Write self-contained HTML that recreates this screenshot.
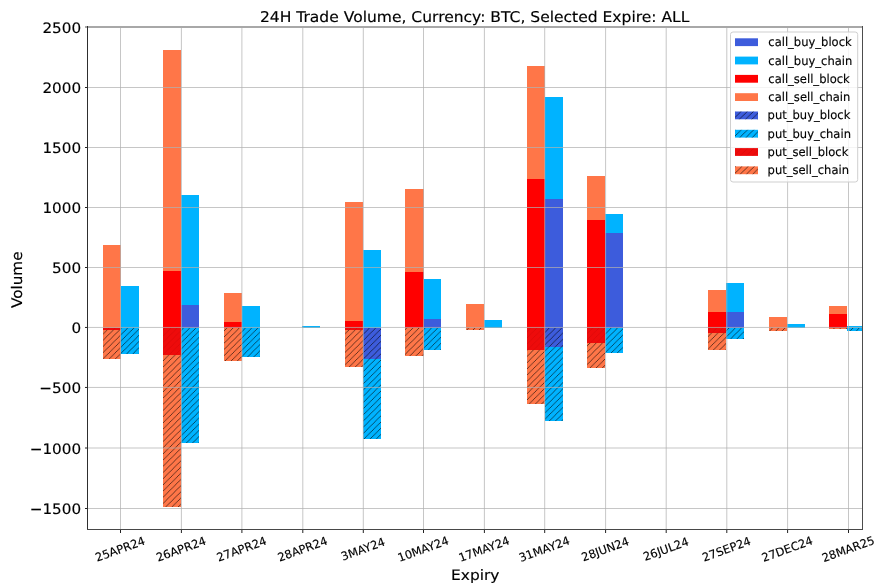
<!DOCTYPE html>
<html lang="en">
<head>
<meta charset="utf-8">
<title>24H Trade Volume, Currency: BTC, Selected Expire: ALL</title>
<style>
html,body{margin:0;padding:0;background:#fff;}
body{width:889px;height:585px;overflow:hidden;}
svg{display:block;}
svg text{font-family:"DejaVu Sans","Liberation Sans",sans-serif;fill:#000;text-rendering:geometricPrecision;stroke:#000;stroke-width:0.15px;}
</style>
</head>
<body>
<svg width="889" height="585" viewBox="0 0 889 585">
<defs>
<pattern id="h" patternUnits="userSpaceOnUse" width="6.2" height="6.2" x="0.9" y="2.2">
<path d="M-1 1L1 -1M-1 7.2L7.2 -1M5.2 7.2L7.2 5.2" stroke="#000" stroke-opacity="0.72" stroke-width="0.8" fill="none"/>
</pattern>
<pattern id="hr" patternUnits="userSpaceOnUse" width="6.2" height="6.2" x="0.9" y="2.2">
<path d="M-1 1L1 -1M-1 7.2L7.2 -1M5.2 7.2L7.2 5.2" stroke="#b00000" stroke-opacity="0.3" stroke-width="0.8" fill="none"/>
</pattern>
<clipPath id="ax"><rect x="87.5" y="26.5" width="775" height="503"/></clipPath>
</defs>
<rect width="889" height="585" fill="#fff"/>
<g clip-path="url(#ax)" shape-rendering="crispEdges">
<rect x="103" y="244.7" width="18" height="82.9" fill="#ff7648"/>
<rect x="103" y="327.6" width="18" height="2.1" fill="#ee0b0b"/><rect x="103" y="327.6" width="18" height="2.1" fill="url(#hr)"/>
<rect x="103" y="329.7" width="18" height="29.6" fill="#ff7648"/><rect x="103" y="329.7" width="18" height="29.6" fill="url(#h)"/>
<rect x="121" y="286.3" width="18" height="41.3" fill="#00b3ff"/>
<rect x="121" y="327.6" width="18" height="26.4" fill="#00b3ff"/><rect x="121" y="327.6" width="18" height="26.4" fill="url(#h)"/>
<rect x="163" y="270.7" width="18" height="56.9" fill="#ff0000"/>
<rect x="163" y="49.7" width="18" height="221" fill="#ff7648"/>
<rect x="163" y="327.6" width="18" height="27.1" fill="#ee0b0b"/><rect x="163" y="327.6" width="18" height="27.1" fill="url(#hr)"/>
<rect x="163" y="354.7" width="18" height="152" fill="#ff7648"/><rect x="163" y="354.7" width="18" height="152" fill="url(#h)"/>
<rect x="181" y="305" width="18" height="22.6" fill="#3d5cdc"/>
<rect x="181" y="195.3" width="18" height="109.7" fill="#00b3ff"/>
<rect x="181" y="327.6" width="18" height="115.4" fill="#00b3ff"/><rect x="181" y="327.6" width="18" height="115.4" fill="url(#h)"/>
<rect x="224" y="321.7" width="18" height="5.9" fill="#ff0000"/>
<rect x="224" y="292.7" width="18" height="29" fill="#ff7648"/>
<rect x="224" y="327.6" width="18" height="33.1" fill="#ff7648"/><rect x="224" y="327.6" width="18" height="33.1" fill="url(#h)"/>
<rect x="242" y="305.7" width="18" height="21.9" fill="#00b3ff"/>
<rect x="242" y="327.6" width="18" height="29.4" fill="#00b3ff"/><rect x="242" y="327.6" width="18" height="29.4" fill="url(#h)"/>
<rect x="302" y="325.7" width="18" height="1.9" fill="#00b3ff"/>
<rect x="345" y="321" width="18" height="6.6" fill="#ff0000"/>
<rect x="345" y="201.7" width="18" height="119.3" fill="#ff7648"/>
<rect x="345" y="327.6" width="18" height="2.2" fill="#ee0b0b"/><rect x="345" y="327.6" width="18" height="2.2" fill="url(#hr)"/>
<rect x="345" y="329.8" width="18" height="36.7" fill="#ff7648"/><rect x="345" y="329.8" width="18" height="36.7" fill="url(#h)"/>
<rect x="363" y="250" width="18" height="77.6" fill="#00b3ff"/>
<rect x="363" y="327.6" width="18" height="31.8" fill="#3d5cdc"/><rect x="363" y="327.6" width="18" height="31.8" fill="url(#h)"/>
<rect x="363" y="359.4" width="18" height="79.3" fill="#00b3ff"/><rect x="363" y="359.4" width="18" height="79.3" fill="url(#h)"/>
<rect x="405" y="272.3" width="19" height="55.3" fill="#ff0000"/>
<rect x="405" y="189" width="19" height="83.3" fill="#ff7648"/>
<rect x="405" y="327.6" width="19" height="28.1" fill="#ff7648"/><rect x="405" y="327.6" width="19" height="28.1" fill="url(#h)"/>
<rect x="424" y="318.7" width="17" height="8.9" fill="#3d5cdc"/>
<rect x="424" y="279.3" width="17" height="39.4" fill="#00b3ff"/>
<rect x="424" y="327.6" width="17" height="22.1" fill="#00b3ff"/><rect x="424" y="327.6" width="17" height="22.1" fill="url(#h)"/>
<rect x="466" y="304" width="18" height="23.6" fill="#ff7648"/>
<rect x="466" y="327.6" width="18" height="2.1" fill="#ff7648"/><rect x="466" y="327.6" width="18" height="2.1" fill="url(#h)"/>
<rect x="484" y="319.7" width="18" height="7.9" fill="#00b3ff"/>
<rect x="527" y="179" width="18" height="148.6" fill="#ff0000"/>
<rect x="527" y="66" width="18" height="113" fill="#ff7648"/>
<rect x="527" y="327.6" width="18" height="22.1" fill="#ee0b0b"/><rect x="527" y="327.6" width="18" height="22.1" fill="url(#hr)"/>
<rect x="527" y="349.7" width="18" height="54.3" fill="#ff7648"/><rect x="527" y="349.7" width="18" height="54.3" fill="url(#h)"/>
<rect x="545" y="199" width="18" height="128.6" fill="#3d5cdc"/>
<rect x="545" y="97" width="18" height="102" fill="#00b3ff"/>
<rect x="545" y="327.6" width="18" height="19.1" fill="#3d5cdc"/><rect x="545" y="327.6" width="18" height="19.1" fill="url(#h)"/>
<rect x="545" y="346.7" width="18" height="74" fill="#00b3ff"/><rect x="545" y="346.7" width="18" height="74" fill="url(#h)"/>
<rect x="587" y="219.7" width="18" height="107.9" fill="#ff0000"/>
<rect x="587" y="175.7" width="18" height="44" fill="#ff7648"/>
<rect x="587" y="327.6" width="18" height="15.7" fill="#ee0b0b"/><rect x="587" y="327.6" width="18" height="15.7" fill="url(#hr)"/>
<rect x="587" y="343.3" width="18" height="24.4" fill="#ff7648"/><rect x="587" y="343.3" width="18" height="24.4" fill="url(#h)"/>
<rect x="605" y="233" width="18" height="94.6" fill="#3d5cdc"/>
<rect x="605" y="213.7" width="18" height="19.3" fill="#00b3ff"/>
<rect x="605" y="327.6" width="18" height="25.7" fill="#00b3ff"/><rect x="605" y="327.6" width="18" height="25.7" fill="url(#h)"/>
<rect x="708" y="312" width="18" height="15.6" fill="#ff0000"/>
<rect x="708" y="290" width="18" height="22" fill="#ff7648"/>
<rect x="708" y="327.6" width="18" height="5.7" fill="#ee0b0b"/><rect x="708" y="327.6" width="18" height="5.7" fill="url(#hr)"/>
<rect x="708" y="333.3" width="18" height="16.4" fill="#ff7648"/><rect x="708" y="333.3" width="18" height="16.4" fill="url(#h)"/>
<rect x="726" y="312" width="18" height="15.6" fill="#3d5cdc"/>
<rect x="726" y="283" width="18" height="29" fill="#00b3ff"/>
<rect x="726" y="327.6" width="18" height="11.1" fill="#00b3ff"/><rect x="726" y="327.6" width="18" height="11.1" fill="url(#h)"/>
<rect x="769" y="317" width="18" height="10.6" fill="#ff7648"/>
<rect x="769" y="327.6" width="18" height="3.4" fill="#ff7648"/><rect x="769" y="327.6" width="18" height="3.4" fill="url(#h)"/>
<rect x="787" y="324" width="18" height="3.6" fill="#00b3ff"/>
<rect x="829" y="314" width="18" height="13.6" fill="#ff0000"/>
<rect x="829" y="305.7" width="18" height="8.3" fill="#ff7648"/>
<rect x="829" y="327.6" width="18" height="1.1" fill="#ff7648"/><rect x="829" y="327.6" width="18" height="1.1" fill="url(#h)"/>
<rect x="847" y="326.2" width="18" height="1.4" fill="#00b3ff"/>
<rect x="847" y="327.6" width="18" height="3.1" fill="#00b3ff"/><rect x="847" y="327.6" width="18" height="3.1" fill="url(#h)"/>
</g>
<g stroke="#b0b0b0" stroke-opacity="0.72" stroke-width="1">
<line x1="120.5" y1="26.5" x2="120.5" y2="529.5"/>
<line x1="181.4" y1="26.5" x2="181.4" y2="529.5"/>
<line x1="241.9" y1="26.5" x2="241.9" y2="529.5"/>
<line x1="302.8" y1="26.5" x2="302.8" y2="529.5"/>
<line x1="363.3" y1="26.5" x2="363.3" y2="529.5"/>
<line x1="423.5" y1="26.5" x2="423.5" y2="529.5"/>
<line x1="484.4" y1="26.5" x2="484.4" y2="529.5"/>
<line x1="544.7" y1="26.5" x2="544.7" y2="529.5"/>
<line x1="605.6" y1="26.5" x2="605.6" y2="529.5"/>
<line x1="666.2" y1="26.5" x2="666.2" y2="529.5"/>
<line x1="726.8" y1="26.5" x2="726.8" y2="529.5"/>
<line x1="787.6" y1="26.5" x2="787.6" y2="529.5"/>
<line x1="848.5" y1="26.5" x2="848.5" y2="529.5"/>
<line x1="87.5" y1="27.5" x2="862.5" y2="27.5"/>
<line x1="87.5" y1="87.5" x2="862.5" y2="87.5"/>
<line x1="87.5" y1="147.5" x2="862.5" y2="147.5"/>
<line x1="87.5" y1="207.5" x2="862.5" y2="207.5"/>
<line x1="87.5" y1="267.5" x2="862.5" y2="267.5"/>
<line x1="87.5" y1="327.45" x2="862.5" y2="327.45"/>
<line x1="87.5" y1="387.45" x2="862.5" y2="387.45"/>
<line x1="87.5" y1="448" x2="862.5" y2="448"/>
<line x1="87.5" y1="508.5" x2="862.5" y2="508.5"/>
</g>
<g stroke="#222" stroke-width="1">
<line x1="120.5" y1="529.5" x2="120.5" y2="533"/>
<line x1="181.4" y1="529.5" x2="181.4" y2="533"/>
<line x1="241.9" y1="529.5" x2="241.9" y2="533"/>
<line x1="302.8" y1="529.5" x2="302.8" y2="533"/>
<line x1="363.3" y1="529.5" x2="363.3" y2="533"/>
<line x1="423.5" y1="529.5" x2="423.5" y2="533"/>
<line x1="484.4" y1="529.5" x2="484.4" y2="533"/>
<line x1="544.7" y1="529.5" x2="544.7" y2="533"/>
<line x1="605.6" y1="529.5" x2="605.6" y2="533"/>
<line x1="666.2" y1="529.5" x2="666.2" y2="533"/>
<line x1="726.8" y1="529.5" x2="726.8" y2="533"/>
<line x1="787.6" y1="529.5" x2="787.6" y2="533"/>
<line x1="848.5" y1="529.5" x2="848.5" y2="533"/>
<line x1="85" y1="87.5" x2="87.5" y2="87.5"/>
<line x1="85" y1="147.5" x2="87.5" y2="147.5"/>
<line x1="85" y1="207.5" x2="87.5" y2="207.5"/>
<line x1="85" y1="267.5" x2="87.5" y2="267.5"/>
<line x1="85" y1="327.45" x2="87.5" y2="327.45"/>
<line x1="85" y1="387.45" x2="87.5" y2="387.45"/>
<line x1="85" y1="448" x2="87.5" y2="448"/>
<line x1="85" y1="508.5" x2="87.5" y2="508.5"/>
</g>
<g shape-rendering="crispEdges">
<rect x="85" y="26" width="778" height="2" fill="#a8a8a8"/>
<rect x="87" y="26" width="1" height="504" fill="#2e2e2e"/>
<rect x="862" y="26" width="1" height="504" fill="#4d4d4d"/>
<rect x="87" y="529" width="776" height="1" fill="#484848"/>
</g>
<g font-size="14.3px">
<text x="42.42" y="32.9" textLength="38.68" lengthAdjust="spacingAndGlyphs">2500</text>
<text x="42.42" y="92.9" textLength="38.68" lengthAdjust="spacingAndGlyphs">2000</text>
<text x="42.42" y="152.9" textLength="38.68" lengthAdjust="spacingAndGlyphs">1500</text>
<text x="42.42" y="212.9" textLength="38.68" lengthAdjust="spacingAndGlyphs">1000</text>
<text x="52.09" y="272.9" textLength="29.01" lengthAdjust="spacingAndGlyphs">500</text>
<text x="71.43" y="332.9" textLength="9.67" lengthAdjust="spacingAndGlyphs">0</text>
<text x="39.39" y="392.9" textLength="41.71" lengthAdjust="spacingAndGlyphs">−500</text>
<text x="29.72" y="453.9" textLength="51.38" lengthAdjust="spacingAndGlyphs">−1000</text>
<text x="29.72" y="513.9" textLength="51.38" lengthAdjust="spacingAndGlyphs">−1500</text>
</g>
<g font-size="11.5px">
<text transform="translate(120.1 549) rotate(-20)" text-anchor="middle" y="4.2">25APR24</text>
<text transform="translate(181 549) rotate(-20)" text-anchor="middle" y="4.2">26APR24</text>
<text transform="translate(241.5 549) rotate(-20)" text-anchor="middle" y="4.2">27APR24</text>
<text transform="translate(302.4 549) rotate(-20)" text-anchor="middle" y="4.2">28APR24</text>
<text transform="translate(362.9 549) rotate(-20)" text-anchor="middle" y="4.2">3MAY24</text>
<text transform="translate(423.1 549) rotate(-20)" text-anchor="middle" y="4.2">10MAY24</text>
<text transform="translate(484 549) rotate(-20)" text-anchor="middle" y="4.2">17MAY24</text>
<text transform="translate(544.3 549) rotate(-20)" text-anchor="middle" y="4.2">31MAY24</text>
<text transform="translate(605.2 549) rotate(-20)" text-anchor="middle" y="4.2">28JUN24</text>
<text transform="translate(665.8 549) rotate(-20)" text-anchor="middle" y="4.2">26JUL24</text>
<text transform="translate(726.4 549) rotate(-20)" text-anchor="middle" y="4.2">27SEP24</text>
<text transform="translate(787.2 549) rotate(-20)" text-anchor="middle" y="4.2">27DEC24</text>
<text transform="translate(848.1 549) rotate(-20)" text-anchor="middle" y="4.2">28MAR25</text>
</g>
<text x="259.9" y="21.8" font-size="14.9px" textLength="429.5" lengthAdjust="spacingAndGlyphs">24H Trade Volume, Currency: BTC, Selected Expire: ALL</text>
<text x="451.1" y="579.7" font-size="14.4px" textLength="48.4" lengthAdjust="spacingAndGlyphs">Expiry</text>
<text transform="translate(22.4 308.1) rotate(-90)" font-size="14.6px" textLength="56.6" lengthAdjust="spacingAndGlyphs">Volume</text>
<g font-size="12.1px">
<rect x="730.5" y="32" width="127.2" height="150" rx="2.5" ry="2.5" fill="#fff" fill-opacity="0.8" stroke="#cfcfcf" stroke-width="1"/>
<rect x="735" y="38.3" width="23" height="7.8" fill="#3d5cdc"/>
<text x="768.3" y="46.2" textLength="83.39" lengthAdjust="spacingAndGlyphs">call_buy_block</text>
<rect x="735" y="56.6" width="23" height="7.8" fill="#00b3ff"/>
<text x="768.3" y="64.5" textLength="84.02" lengthAdjust="spacingAndGlyphs">call_buy_chain</text>
<rect x="735" y="74.9" width="23" height="7.8" fill="#ff0000"/>
<text x="768.3" y="82.8" textLength="81.44" lengthAdjust="spacingAndGlyphs">call_sell_block</text>
<rect x="735" y="93.2" width="23" height="7.8" fill="#ff7648"/>
<text x="768.3" y="101.1" textLength="82.07" lengthAdjust="spacingAndGlyphs">call_sell_chain</text>
<rect x="735" y="111.5" width="23" height="7.8" fill="#3d5cdc"/>
<rect x="735" y="111.5" width="23" height="7.8" fill="url(#h)"/>
<text x="767.6" y="119.4" textLength="82.72" lengthAdjust="spacingAndGlyphs">put_buy_block</text>
<rect x="735" y="129.8" width="23" height="7.8" fill="#00b3ff"/>
<rect x="735" y="129.8" width="23" height="7.8" fill="url(#h)"/>
<text x="767.6" y="137.7" textLength="83.35" lengthAdjust="spacingAndGlyphs">put_buy_chain</text>
<rect x="735" y="148.1" width="23" height="7.8" fill="#ee0b0b"/>
<rect x="735" y="148.1" width="23" height="7.8" fill="url(#hr)"/>
<text x="767.6" y="156" textLength="80.78" lengthAdjust="spacingAndGlyphs">put_sell_block</text>
<rect x="735" y="166.4" width="23" height="7.8" fill="#ff7648"/>
<rect x="735" y="166.4" width="23" height="7.8" fill="url(#h)"/>
<text x="767.6" y="174.3" textLength="81.41" lengthAdjust="spacingAndGlyphs">put_sell_chain</text>
</g>
</svg>
</body>
</html>
